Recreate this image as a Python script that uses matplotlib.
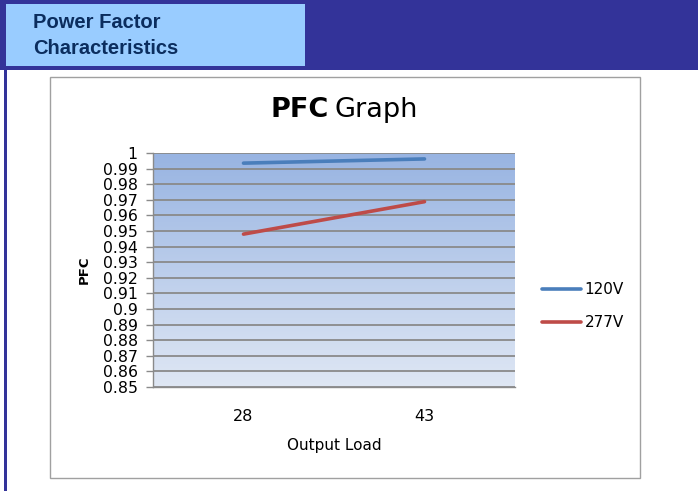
import matplotlib
matplotlib.use("Agg")
import matplotlib.pyplot as plt
import numpy as np
from matplotlib.patches import Rectangle
from matplotlib.colors import LinearSegmentedColormap

categories = ["28", "43"]
series_names = ["120V", "277V"]
v120 = [0.9935, 0.9962]
v277 = [0.948, 0.9688]
yticks = [0.85, 0.86, 0.87, 0.88, 0.89, 0.9, 0.91, 0.92, 0.93, 0.94, 0.95, 0.96, 0.97, 0.98, 0.99, 1]
ytick_labels = ["0.85", "0.86", "0.87", "0.88", "0.89", "0.9", "0.91", "0.92", "0.93", "0.94",
                "0.95", "0.96", "0.97", "0.98", "0.99", "1"]

W, H = 698, 491
fig = plt.figure(figsize=(W / 100, H / 100), dpi=100)
fig.patch.set_facecolor("white")

def fx(x):
    return x / W

def fy(y):
    return 1 - y / H

navy = "#333399"
# header
fig.patches.append(Rectangle((fx(0), fy(70)), fx(698), 70 / H, transform=fig.transFigure,
                             facecolor=navy, edgecolor="none", zorder=-3))
fig.patches.append(Rectangle((fx(6), fy(66)), fx(299), 62 / H, transform=fig.transFigure,
                             facecolor="#99ccff", edgecolor="none", zorder=-2))
# left border
fig.patches.append(Rectangle((fx(4), 0), fx(3), fy(66), transform=fig.transFigure,
                             facecolor=navy, edgecolor="none", zorder=-2))
fig.text(fx(33), fy(22), "Power Factor", fontsize=14.5, fontweight="bold", color="#0b2d5e",
         family="Liberation Sans", va="center", ha="left")
fig.text(fx(33), fy(48), "Characteristics", fontsize=14.5, fontweight="bold", color="#0b2d5e",
         family="Liberation Sans", va="center", ha="left")
# chart frame
fig.patches.append(Rectangle((fx(50), fy(478)), fx(590), (478 - 77) / H, transform=fig.transFigure,
                             facecolor="white", edgecolor="#a0a0a0", linewidth=1.0, zorder=-2))

font = "DejaVu Sans"
# title
fig.text(fx(329), fy(110), "PFC", fontsize=19.5, fontweight="bold", family=font,
         ha="right", va="center", color="black")
fig.text(fx(335), fy(110), "Graph", fontsize=19.5, family=font,
         ha="left", va="center", color="black")

ax = fig.add_axes([fx(153), fy(387), fx(515 - 153), (387 - 153) / H])
ax.set_zorder(2)
ax.patch.set_alpha(0)
x = np.arange(len(categories))
ax.set_xlim(-0.5, len(categories) - 0.5)
ax.set_ylim(0.85, 1.0)

cmap = LinearSegmentedColormap.from_list("g", ["#dfe7f4", "#98b4e2"])
grad = np.linspace(0, 1, 256).reshape(-1, 1)
ax.imshow(grad, aspect="auto", cmap=cmap, origin="lower",
          extent=[-0.5, len(categories) - 0.5, 0.85, 1.0], zorder=0)

for yv in yticks:
    ax.axhline(yv, color="#8a8a8a", linewidth=1.3, zorder=1)

ax.plot(x, v120, color="#4a7ebb", linewidth=2.6, solid_capstyle="round", label=series_names[0], zorder=3)
ax.plot(x, v277, color="#be4b48", linewidth=2.6, solid_capstyle="round", label=series_names[1], zorder=3)

ax.set_yticks(yticks)
ax.set_yticklabels(ytick_labels, fontsize=11.3, family=font)
ax.set_xticks(x)
ax.set_xticklabels(categories, fontsize=11.5, family=font)
ax.tick_params(axis="x", length=0, pad=16)
ax.tick_params(axis="y", length=5, width=1, color="#8a8a8a", pad=6)
for s in ["top", "right"]:
    ax.spines[s].set_visible(False)
for s in ["left", "bottom"]:
    ax.spines[s].set_color("#8a8a8a")
    ax.spines[s].set_linewidth(1.0)

ax.set_xlabel("Output Load", fontsize=11, family=font, labelpad=10)
fig.text(fx(84), fy(270), "PFC", rotation=90, fontsize=9.5, fontweight="bold", family=font,
         ha="center", va="center")

leg = ax.legend(loc="center left", bbox_to_anchor=((528 - 153) / (515 - 153), 0.345),
                frameon=False, prop={"family": font, "size": 11}, handlelength=2.55,
                labelspacing=1.15, handletextpad=0.26)

fig.savefig("out.png", dpi=100)
